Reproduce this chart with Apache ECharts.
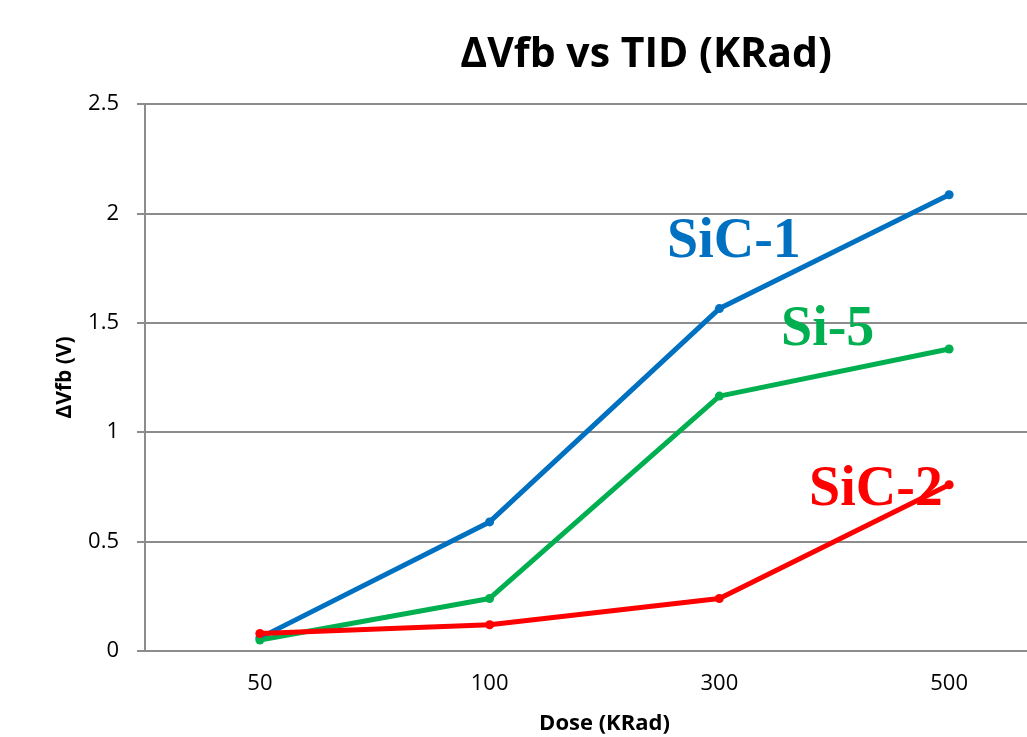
<!DOCTYPE html>
<html>
<head>
<meta charset="utf-8">
<script src="https://cdn.jsdelivr.net/npm/echarts@6/dist/echarts.min.js"></script>
<style>
  html, body { margin: 0; padding: 0; background: #fff; }
  #main { width: 1027px; height: 737px; }
</style>
</head>
<body>
<div id="main"></div>
<script>
// dose categories (KRad)
const doses = ['50', '100', '300', '500']
// ΔVfb values
const sic1 = [0.06, 0.59, 1.565, 2.085]
const si5 = [0.05, 0.24, 1.165, 1.38]
const sic2 = [0.08, 0.12, 0.24, 0.76]

const chart = echarts.init(document.getElementById('main'))

function line(name, data, color) {
  return {
    name: name,
    type: 'line',
    data: data,
    symbol: 'circle',
    symbolSize: 9,
    lineStyle: { width: 5, color: color },
    itemStyle: { color: color },
    z: 3
  }
}

const labelFont = 'bold 56px "Liberation Serif", "DejaVu Serif", serif'
const sans = '"Open Sans", sans-serif'

const option = {
  backgroundColor: '#ffffff',
  animation: false,
  title: {
    text: 'ΔVfb vs TID (KRad)',
    left: 641,
    top: 30,
    textAlign: 'center',
    textStyle: { fontFamily: sans, fontWeight: 'bold', fontSize: 41, color: '#000' }
  },
  // the plot runs past the right edge of the picture, as in the original
  grid: { left: 145, top: 104, bottom: 86, width: 919, outerBoundsMode: 'none' },
  xAxis: {
    type: 'category',
    data: doses,
    boundaryGap: true,
    name: 'Dose (KRad)',
    nameLocation: 'middle',
    nameGap: 62,
    nameTextStyle: { fontFamily: sans, fontWeight: 'bold', fontSize: 22, color: '#000' },
    axisLine: { lineStyle: { color: '#8c8c8c', width: 2 } },
    axisTick: { show: false },
    axisLabel: { fontFamily: sans, fontSize: 22, color: '#000', margin: 22 }
  },
  yAxis: {
    type: 'value',
    min: 0,
    max: 2.5,
    interval: 0.5,
    name: 'ΔVfb (V)',
    nameLocation: 'middle',
    nameGap: 69,
    nameRotate: 90,
    nameTextStyle: { fontFamily: sans, fontWeight: 'bold', fontSize: 21, color: '#000' },
    axisLine: { show: true, lineStyle: { color: '#8c8c8c', width: 2 } },
    axisTick: { show: true, length: 8, lineStyle: { color: '#8c8c8c', width: 2 } },
    splitLine: { lineStyle: { color: '#8c8c8c', width: 2 } },
    axisLabel: { fontFamily: sans, fontSize: 22, color: '#000', margin: 26 }
  },
  graphic: [
    { type: 'text', left: 667, top: 215, z: 10, style: { text: 'SiC-1', font: labelFont, fill: '#0070c0' } },
    { type: 'text', left: 781, top: 303, z: 10, style: { text: 'Si-5', font: labelFont, fill: '#00b050' } },
    { type: 'text', left: 809, top: 463, z: 1, style: { text: 'SiC-2', font: labelFont, fill: '#ff0000' } }
  ],
  series: [
    line('SiC-1', sic1, '#0070c0'),
    line('Si-5', si5, '#00b050'),
    line('SiC-2', sic2, '#ff0000')
  ]
}

chart.setOption(option)
</script>
</body>
</html>
